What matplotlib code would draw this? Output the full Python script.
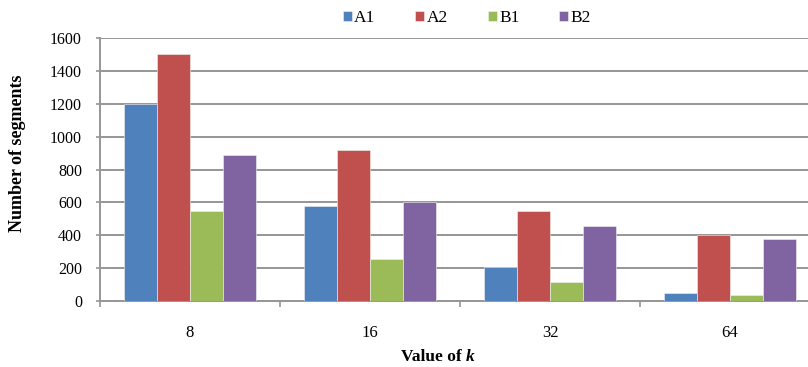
import matplotlib

matplotlib.use("Agg")
import matplotlib.pyplot as plt  # noqa: E402
import numpy as np  # noqa: E402

categories = ["8", "16", "32", "64"]
series = ["A1", "A2", "B1", "B2"]
a1 = [1200, 575, 205, 50]
a2 = [1500, 920, 550, 400]
b1 = [550, 255, 115, 35]
b2 = [890, 600, 455, 375]
y_ticks = [0, 200, 400, 600, 800, 1000, 1200, 1400, 1600]

COLORS = ["#4F81BD", "#C0504D", "#9BBB59", "#8064A2"]
GRID = "#969696"

plt.rcParams["font.family"] = ["Liberation Serif", "DejaVu Serif"]

W, H = 808, 367
fig = plt.figure(figsize=(W / 100, H / 100), dpi=100)
# plot area runs a little past the right edge of the canvas
ax = fig.add_axes([100 / W, 66 / H, 720 / W, 263 / H])

x = np.arange(len(categories))
w = 0.183
for i, (name, vals) in enumerate(zip(series, [a1, a2, b1, b2])):
    ax.bar(x + (i - 1.5) * w, vals, width=w, color=COLORS[i], label=name,
           edgecolor="#f2f2f2", linewidth=0.4, zorder=3)

ax.set_xlim(-0.5, len(categories) - 0.5)
ax.set_ylim(0, 1600)
ax.set_yticks(y_ticks)
ax.set_yticklabels([str(t) for t in y_ticks], fontsize=11.5)
ax.yaxis.grid(True, color=GRID, linewidth=1.4, zorder=0)

# category labels centred, tick marks between groups
ax.set_xticks(np.arange(-0.5, len(categories)), minor=False)
ax.set_xticklabels([])
ax.set_xticks(x, minor=True)
ax.set_xticklabels(categories, minor=True, fontsize=12)
ax.tick_params(axis="x", which="minor", length=0, pad=17)
ax.tick_params(axis="x", which="major", length=4, width=1.2, color=GRID,
               direction="out")
ax.tick_params(axis="y", length=3, width=1.2, color=GRID, direction="out", pad=10)

for side in ["top", "right"]:
    ax.spines[side].set_visible(False)
for side in ["left", "bottom"]:
    ax.spines[side].set_color(GRID)
    ax.spines[side].set_linewidth(1.4)

fig.text(18 / W, 1 - 153 / H, "Number of segments", fontsize=13, fontweight="bold",
         rotation=90, ha="center", va="center")
fig.text(466 / W, 1 - 357 / H, "Value of ", fontsize=12.5, fontweight="bold",
         ha="right", va="center")
fig.text(466 / W, 1 - 357 / H, "k", fontsize=12.5, fontweight="bold",
         style="italic", ha="left", va="center")

fig.legend(loc="center", bbox_to_anchor=(467 / W, 1 - 18 / H), ncol=4,
           frameon=False, fontsize=12.5, handlelength=0.5, handleheight=0.5,
           handletextpad=0.15, columnspacing=2.3, borderaxespad=0)

fig.savefig("out.png", dpi=100)
